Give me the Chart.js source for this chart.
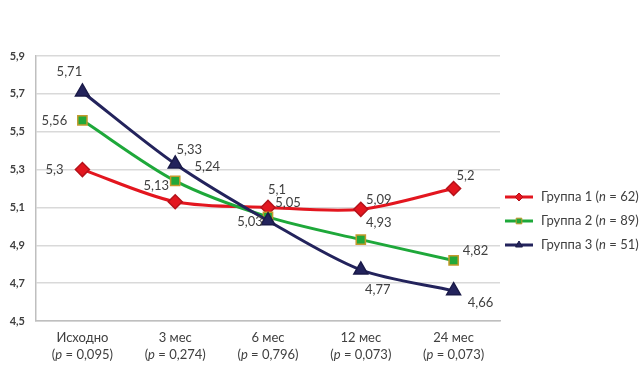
<!DOCTYPE html>
<html lang="ru">
<head>
  <meta charset="UTF-8">
  <title>Группы по времени</title>
  <script src="https://cdn.jsdelivr.net/npm/chart.js"></script>
  <style>
    html, body { margin: 0; padding: 0; background: #ffffff; }
    #wrap { width: 641px; height: 370px; }
  </style>
</head>
<body>
<div id="wrap">
  <canvas id="chart" width="641" height="370"></canvas>
</div>

<script>
  // data
  const categories = ['Исходно', '3 мес', '6 мес', '12 мес', '24 мес'];
  const pValues = ['0,095', '0,274', '0,796', '0,073', '0,073'];
  const group1 = [5.3, 5.13, 5.1, 5.09, 5.2];
  const group2 = [5.56, 5.24, 5.05, 4.93, 4.82];
  const group3 = [5.71, 5.33, 5.03, 4.77, 4.66];
  const groupNames = ['Группа 1', 'Группа 2', 'Группа 3'];
  const groupN = [62, 89, 51];

  const FONT = 'Lato, "Open Sans", sans-serif';
  const TEXT = '#404040';
  const FS = 13;

  // label placement (dx, dy from point)
  const labelOffsets = [
    [[-28, 0], [-19, -16], [9, -18], [18, -10], [12, -13]],
    [[-28, 0], [32, -14], [20, -14], [18, -17], [22, -10]],
    [[-13, -20], [14, -14], [-18, 1], [17, 20], [27, 12]]
  ];

  const fmt = v => String(v).replace('.', ',');

  const styles = [
    { color: '#e3161f', point: 'rectRot', radius: 7, pointBorder: '#b5121a', pointFill: '#e3161f' },
    { color: '#1ea83a', point: 'rect', radius: 6.5, pointBorder: '#c39a2c', pointFill: '#22a83a' },
    { color: '#23235c', point: 'triangle', radius: 8, pointBorder: '#1a1a48', pointFill: '#23235c' }
  ];

  const series = [group1, group2, group3];

  const datasets = series.map((d, i) => ({
    label: groupNames[i],
    data: d,
    borderColor: styles[i].color,
    borderWidth: 3,
    tension: 0.3,
    pointStyle: styles[i].point,
    pointRadius: styles[i].radius,
    pointBackgroundColor: styles[i].pointFill,
    pointBorderColor: styles[i].pointBorder,
    pointBorderWidth: 1.5,
    order: 3 - i
  }));

  const annotate = {
    id: 'annotate',
    afterDatasetsDraw(chart) {
      const ctx = chart.ctx;
      const xs = chart.scales.x;
      const area = chart.chartArea;
      ctx.save();

      // value labels
      ctx.font = FS + 'px ' + FONT;
      ctx.fillStyle = TEXT;
      ctx.textAlign = 'center';
      ctx.textBaseline = 'middle';
      series.forEach((d, si) => {
        const meta = chart.getDatasetMeta(si);
        meta.data.forEach((pt, j) => {
          const off = labelOffsets[si][j];
          ctx.fillText(fmt(d[j]), pt.x + off[0], pt.y + off[1]);
        });
      });

      // category labels with italic p
      categories.forEach((c, i) => {
        const x = xs.getPixelForValue(i);
        ctx.font = FS + 'px ' + FONT;
        ctx.textAlign = 'center';
        ctx.fillText(c, x, area.bottom + 17);
        const parts = [
          ['(', 'normal'], ['p', 'italic'], [' = ' + pValues[i] + ')', 'normal']
        ];
        let total = 0;
        parts.forEach(p => { ctx.font = p[1] + ' ' + FS + 'px ' + FONT; total += ctx.measureText(p[0]).width; });
        let cx = x - total / 2;
        ctx.textAlign = 'left';
        parts.forEach(p => {
          ctx.font = p[1] + ' ' + FS + 'px ' + FONT;
          ctx.fillText(p[0], cx, area.bottom + 34);
          cx += ctx.measureText(p[0]).width;
        });
      });

      // legend
      const lx = 505, ly0 = 197, gap = 24;
      series.forEach((d, i) => {
        const y = ly0 + i * gap;
        ctx.strokeStyle = styles[i].color;
        ctx.lineWidth = 3;
        ctx.beginPath();
        ctx.moveTo(lx, y);
        ctx.lineTo(lx + 28, y);
        ctx.stroke();
        ctx.fillStyle = styles[i].pointFill;
        ctx.strokeStyle = styles[i].pointBorder;
        ctx.lineWidth = 1;
        Chart.helpers.drawPoint(ctx, { pointStyle: styles[i].point, radius: 4, rotation: 0, borderWidth: 1 }, lx + 14, y);
        ctx.fillStyle = TEXT;
        const parts = [
          [groupNames[i] + ' (', 'normal'], ['n', 'italic'], [' = ' + groupN[i] + ')', 'normal']
        ];
        let cx = lx + 36;
        ctx.textAlign = 'left';
        parts.forEach(p => {
          ctx.font = p[1] + ' ' + FS + 'px ' + FONT;
          ctx.fillText(p[0], cx, y);
          cx += ctx.measureText(p[0]).width;
        });
      });

      ctx.restore();
    }
  };

  new Chart(document.getElementById('chart').getContext('2d'), {
    type: 'line',
    data: { labels: categories, datasets: datasets },
    plugins: [annotate],
    options: {
      responsive: false,
      animation: false,
      layout: { padding: { left: 0, top: 56, right: 141, bottom: 49 } },
      plugins: {
        legend: { display: false },
        tooltip: { enabled: false }
      },
      scales: {
        x: {
          offset: true,
          grid: { display: false, drawTicks: false },
          border: { display: true, color: '#bfbfbf', width: 1.5 },
          ticks: { display: false },
          afterFit: s => { s.height = 0; }
        },
        y: {
          min: 4.5,
          max: 5.9,
          grid: { color: '#d9d9d9', lineWidth: 1.5, drawTicks: false },
          border: { display: true, color: '#bfbfbf', width: 1.5 },
          ticks: {
            stepSize: 0.2,
            padding: 11,
            color: TEXT,
            font: { family: FONT, size: 11, weight: 'bold' },
            callback: v => v.toFixed(1).replace('.', ',')
          },
          afterFit: s => { s.width = 36; }
        }
      }
    }
  });
</script>
</body>
</html>
